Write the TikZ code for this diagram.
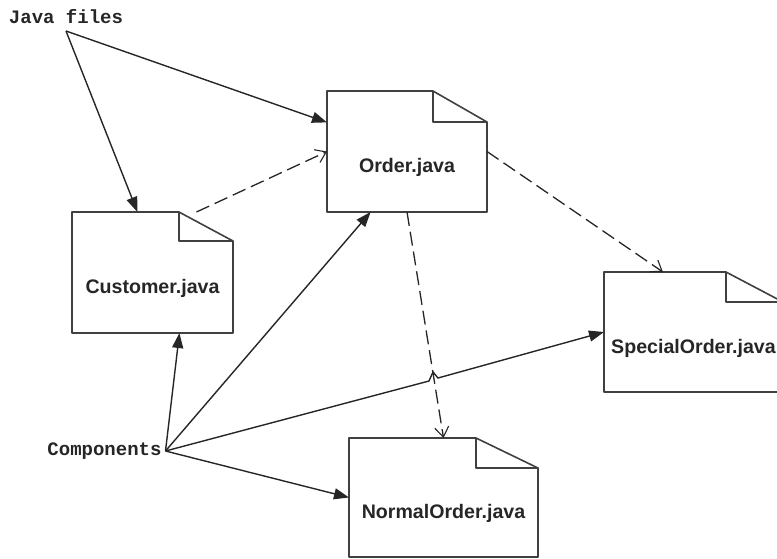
\documentclass[tikz,border=0pt]{standalone}
\usepackage{fontspec}
\setmainfont{Liberation Sans}
\setmonofont{Liberation Mono}
\usetikzlibrary{arrows.meta}
\tikzset{
  filebox/.style={
    rectangle,
    inner sep=0pt,
    outer sep=0pt,
    text height=42pt,
    text depth=0pt,
    font=\fontsize{19.6pt}{23pt}\selectfont\bfseries,
    text=black!85
  },
  tag/.style={
    inner xsep=4pt,
    inner ysep=0pt,
    outer sep=0pt,
    minimum height=28pt,
    font=\fontsize{19pt}{23pt}\selectfont\ttfamily\bfseries,
    text=black!85
  },
  fileline/.style={draw=black!75,line width=1.6pt,line join=round},
  uses/.style={draw=black!85,line width=1.4pt,-{Triangle[length=15pt,width=11pt]}},
  depends/.style={draw=black!85,line width=1.3pt,dash pattern=on 14pt off 6pt,
    -{Straight Barb[length=10pt,width=14pt,line width=1.1pt]}}
}

\begin{document}
\begin{tikzpicture}[x=1pt,y=-1pt]
    \useasboundingbox (0,0) rectangle (777,558);
    \clip (0,0) rectangle (777,558);
    % files
    \node[filebox,minimum width=160pt,minimum height=121pt] (order) at (407,151.5) {Order.java};
    \node[filebox,minimum width=161pt,minimum height=121pt] (customer) at (152.5,272.5) {Customer.java};
    \node[filebox,minimum width=179pt,minimum height=120pt] (special) at (693.5,332) {SpecialOrder.java};
    \node[filebox,minimum width=189pt,minimum height=119pt] (normal) at (443.5,497.5) {NormalOrder.java};
    \node[tag] (javafiles) at (66,17) {Java files};
    \node[tag] (components) at (104.5,451) {Components};
    % outlines
    \draw[fileline] (order.south west) -- (order.north west) -- ++(106,0) -- ++(0,31) -- ++(54,0) -- (order.south east) -- cycle;
    \draw[fileline] (order.north west) ++(106,0) -- ++(54,31);
    \draw[fileline] (customer.south west) -- (customer.north west) -- ++(107,0) -- ++(0,29) -- ++(54,0) -- (customer.south east) -- cycle;
    \draw[fileline] (customer.north west) ++(107,0) -- ++(54,29);
    \draw[fileline] (special.south west) -- (special.north west) -- ++(122,0) -- ++(0,30) -- ++(57,0) -- (special.south east) -- cycle;
    \draw[fileline] (special.north west) ++(122,0) -- ++(57,30);
    \draw[fileline] (normal.south west) -- (normal.north west) -- ++(127,0) -- ++(0,30) -- ++(62,0) -- (normal.south east) -- cycle;
    \draw[fileline] (normal.north west) ++(127,0) -- ++(62,30);
    % solid arrows
    \draw[uses] (javafiles.south) -- (order.160);
    \draw[uses] (javafiles.south) -- (customer.104);
    \draw[uses] (components.east) -- (customer.-66);
    \draw[uses] (components.east) -- (order.239);
    \draw[uses] (components.east) -- (429,381) -- (433,372) -- (438,378) -- (special.west);
    \draw[uses] (components.east) -- (normal.west);
    % dashed arrows
    \draw[depends] (customer.54) -- (order.west);
    \draw[depends] (order.east) -- (special.117);
    \draw[depends] (order.south) -- (normal.north);
\end{tikzpicture}
\end{document}
